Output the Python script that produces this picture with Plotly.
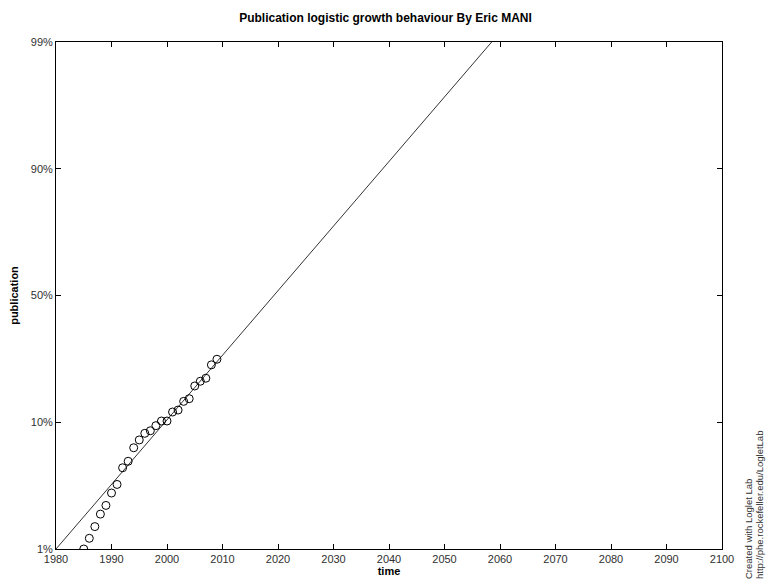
import numpy as np
import plotly.graph_objects as go

# Observed data (year, share of saturation in %)
years = [1985, 1986, 1987, 1988, 1989, 1990, 1991, 1992, 1993, 1994, 1995, 1996,
         1997, 1998, 1999, 2000, 2001, 2002, 2003, 2004, 2005, 2006, 2007, 2008, 2009]
percent = [0.99, 1.20, 1.48, 1.85, 2.16, 2.69, 3.13, 4.19, 4.69, 5.92, 6.76, 7.56,
           7.89, 8.59, 9.28, 9.28, 10.75, 11.1, 12.75, 13.3, 16.2, 17.4, 18.2, 22.1, 23.9]

# Logistic fit parameters (midpoint year, characteristic duration 10%->90%)
fit_midpoint = 2019.25
fit_duration = 39.25
fit_years = [1970, 2110]

# Axis ticks (Fisher-Pry transform, log10(F/(1-F)))
y_tickvals = [-2, -1, 0, 1, 2]
y_ticktext = ["1%", "10%", "50%", "90%", "99%"]
x_tickvals = list(range(1980, 2101, 10))

p = np.array(percent) / 100.0
fp = np.log10(p / (1 - p))
fy = np.array(fit_years, dtype=float)
fit_fp = 2.0 * (fy - fit_midpoint) / fit_duration

FONT = "Liberation Sans, Arial, sans-serif"
LABEL = "#303030"

fig = go.Figure()
fig.add_trace(go.Scatter(x=fit_years, y=fit_fp, mode="lines",
                         line=dict(color="#333333", width=1), showlegend=False,
                         hoverinfo="skip"))
fig.add_trace(go.Scatter(x=years, y=fp, mode="markers",
                         marker=dict(symbol="circle-open", size=8, color="black",
                                     line=dict(width=1, color="black")),
                         showlegend=False, cliponaxis=True))

fig.update_layout(
    template="none",
    width=771, height=585,
    margin=dict(l=56, r=49, t=42, b=36, autoexpand=False),
    paper_bgcolor="white", plot_bgcolor="white",
    font=dict(family=FONT, size=11, color=LABEL),
    title=dict(text="<b>Publication logistic growth behaviour By Eric MANI</b>",
               x=0.5, xref="container", xanchor="center",
               y=1 - 18 / 585, yref="container", yanchor="middle",
               font=dict(family=FONT, size=12, color="black")),
    xaxis=dict(range=[1980, 2100], tickvals=x_tickvals, ticks="inside", ticklen=5,
               tickcolor="black", showgrid=False, zeroline=False, automargin=False,
               showline=True, linecolor="black", linewidth=1, mirror="ticks",
               tickfont=dict(family=FONT, size=11, color=LABEL),
               title=dict(text="<b>time</b>", standoff=0,
                          font=dict(family=FONT, size=11, color="black"))),
    yaxis=dict(range=[-2, 2], tickvals=y_tickvals, ticktext=y_ticktext,
               ticks="inside", ticklen=5, tickcolor="black", showgrid=False,
               zeroline=False, showline=True, linecolor="black", linewidth=1,
               mirror="ticks", automargin=False,
               tickfont=dict(family=FONT, size=11, color=LABEL),
               title=dict(text="<b>publication</b>", standoff=9,
                          font=dict(family=FONT, size=11, color="black"))),
)

fig.add_annotation(text="Created with Loglet Lab", textangle=-90,
                   xref="paper", yref="paper", x=(748 - 56) / 666, y=(549 - 581) / 507,
                   xanchor="center", yanchor="bottom", showarrow=False,
                   font=dict(family=FONT, size=9.5, color=LABEL))
fig.add_annotation(text="http://phe.rockefeller.edu/LogletLab", textangle=-90,
                   xref="paper", yref="paper", x=(759 - 56) / 666, y=(549 - 581) / 507,
                   xanchor="center", yanchor="bottom", showarrow=False,
                   font=dict(family=FONT, size=9.5, color=LABEL))

fig.write_html("out.html", config={"displayModeBar": False},
               post_script="document.body.style.margin='0';document.body.style.padding='0';")
